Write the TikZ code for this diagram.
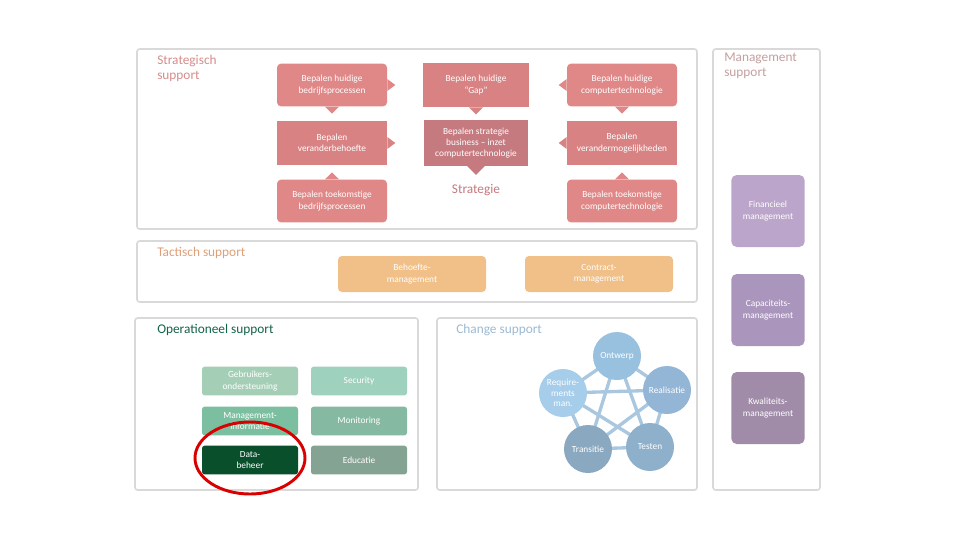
\documentclass[tikz,border=0pt]{standalone}
\usepackage{fontspec}
\setmainfont{Carlito}
\definecolor{pinkA}{HTML}{E08787}
\definecolor{pinkB}{HTML}{D98283}
\definecolor{pinkC}{HTML}{C57A80}
\definecolor{orangeA}{HTML}{F0C088}
\definecolor{lines}{HTML}{A9C8E0}
\definecolor{hS}{HTML}{D68C8C}
\definecolor{hM}{HTML}{C4A0A0}
\definecolor{hT}{HTML}{DEA078}
\definecolor{hO}{HTML}{146446}
\definecolor{hC}{HTML}{9CBAD2}
\definecolor{pu1}{HTML}{BCA5CA}
\definecolor{pu2}{HTML}{AA96BC}
\definecolor{pu3}{HTML}{A08CA8}
\definecolor{g1}{HTML}{A4CFB6}
\definecolor{g2}{HTML}{9ED1BE}
\definecolor{g3}{HTML}{7CBFA0}
\definecolor{g4}{HTML}{85B9A1}
\definecolor{g5}{HTML}{0A4F2C}
\definecolor{g6}{HTML}{85A393}
\definecolor{c1}{HTML}{98C1E0}
\definecolor{c2}{HTML}{93B5D6}
\definecolor{c3}{HTML}{8FB0CB}
\definecolor{c4}{HTML}{8AA8C0}
\definecolor{c5}{HTML}{A6CDE9}
\begin{document}
\begin{tikzpicture}[x=0.75pt,y=-0.75pt,
 frame/.style={draw=black!15,line width=1.2pt,rounded corners=2pt},
 sb/.style={fill=#1,text=white,align=center,inner sep=0pt,font=\fontsize{7}{8.5}\selectfont},
 pk/.style={sb=pinkA,minimum width=82.5pt,minimum height=32pt,rounded corners=3pt},
 pks/.style={sb=pinkB,minimum width=80pt,minimum height=33pt},
 og/.style={sb=orangeA,minimum width=111pt,minimum height=27pt,rounded corners=3pt},
 pu/.style={sb=#1,minimum width=55pt,minimum height=54pt,rounded corners=4pt},
 gr/.style={sb=#1,minimum width=72pt,minimum height=21.5pt,rounded corners=2pt},
 ci/.style={circle,fill=#1,text=white,minimum size=36pt,inner sep=0pt,align=center,font=\fontsize{7}{8}\selectfont},
 hd/.style={anchor=north west,align=left,font=\fontsize{10}{11}\selectfont,text=#1,inner sep=0pt}]
\useasboundingbox (0,0) rectangle (960,540);
\fill[white] (0,0) rectangle (960,540);
% frames
\draw[frame] (137,49) rectangle (697,229);
\draw[frame] (137,241) rectangle (697,302);
\draw[frame] (135,318) rectangle (418,490);
\draw[frame] (437,318) rectangle (697,490);
\draw[frame] (713,49) rectangle (820,490);
% headers
\node[hd=hS] (hs) at (157,55) {Strategisch\\support};
\node[hd=hM] (hm) at (724,53) {Management\\support};
\node[hd=hT] (ht) at (157,247) {Tactisch support};
\node[hd=hO] (ho) at (157,324) {Operationeel support};
\node[hd=hC] (hc) at (456,324) {Change support};
% strategic
\node[pk] (a1) at (332,85) {Bepalen huidige\\bedrijfsprocessen};
\node[pks] (a2) at (476,85) {Bepalen huidige\\\textquotedblleft Gap\textquotedblright};
\node[pk] (a3) at (622,85) {Bepalen huidige\\computertechnologie};
\node[pks,minimum width=82.5pt] (b1) at (332,143) {Bepalen\\veranderbehoefte};
\node[sb=pinkC,minimum width=78pt,minimum height=34pt] (b2) at (476,143) {Bepalen strategie\\business -- inzet\\computertechnologie};
\node[pks,minimum width=82.5pt] (b3) at (622,143) {Bepalen\\verandermogelijkheden};
\node[pk] (c1) at (332,201) {Bepalen toekomstige\\bedrijfsprocessen};
\node[text=pinkC,font=\fontsize{10}{11}\selectfont] (c2) at (476,190) {Strategie};
\node[pk] (c3) at (622,201) {Bepalen toekomstige\\computertechnologie};
% pointers
\fill[pinkA] (a1.east)++(0,-6) -- ++(8,6) -- ++(-8,6) -- cycle;
\fill[pinkA] (a1.south)++(-7,0) -- ++(7,7) -- ++(7,-7) -- cycle;
\fill[pinkB] (a2.south)++(-7,0) -- ++(7,7) -- ++(7,-7) -- cycle;
\fill[pinkA] (a3.west)++(0,-6) -- ++(-8,6) -- ++(8,6) -- cycle;
\fill[pinkA] (a3.south)++(-7,0) -- ++(7,7) -- ++(7,-7) -- cycle;
\fill[pinkB] (b1.east)++(0,-6) -- ++(8,6) -- ++(-8,6) -- cycle;
\fill[pinkC] (b2.south)++(-9,0) -- ++(9,9) -- ++(9,-9) -- cycle;
\fill[pinkB] (b3.west)++(0,-6) -- ++(-8,6) -- ++(8,6) -- cycle;
\fill[pinkA] (c1.north)++(-7,0) -- ++(7,-7) -- ++(7,7) -- cycle;
\fill[pinkA] (c3.north)++(-7,0) -- ++(7,-7) -- ++(7,7) -- cycle;
% tactical
\node[og] (t1) at (412,274) {Behoefte-\\management};
\node[og] (t2) at (599,274) {Contract-\\management};
% management
\node[pu=pu1] (m1) at (768,211) {Financieel\\management};
\node[pu=pu2] (m2) at (768,310) {Capaciteits-\\management};
\node[pu=pu3] (m3) at (768,408) {Kwaliteits-\\management};
% operational
\node[gr=g1] (o1) at (250,381) {Gebruikers-\\ondersteuning};
\node[gr=g2] (o2) at (359,381) {Security};
\node[gr=g3] (o3) at (250,421) {Management-\\informatie};
\node[gr=g4] (o4) at (359,421) {Monitoring};
\node[gr=g5] (o5) at (250,460) {Data-\\beheer};
\node[gr=g6] (o6) at (359,460) {Educatie};
\draw[red!85!black,line width=2.2pt] (250,458) ellipse [x radius=55,y radius=36];
% change
\coordinate (k1) at (617,356);
\coordinate (k2) at (667,390);
\coordinate (k3) at (650,447);
\coordinate (k4) at (588,449);
\coordinate (k5) at (563,393);
\draw[lines,line width=2.5pt] (k1)--(k2) (k2)--(k3) (k3)--(k4) (k4)--(k5) (k5)--(k1)
 (k1)--(k3) (k1)--(k4) (k2)--(k4) (k2)--(k5) (k3)--(k5);
\node[ci=c1] (n1) at (k1) {Ontwerp};
\node[ci=c2] (n2) at (k2) {Realisatie};
\node[ci=c3] (n3) at (k3) {Testen};
\node[ci=c4] (n4) at (k4) {Transitie};
\node[ci=c5] (n5) at (k5) {Require-\\ments\\man.};
\end{tikzpicture}
\end{document}
